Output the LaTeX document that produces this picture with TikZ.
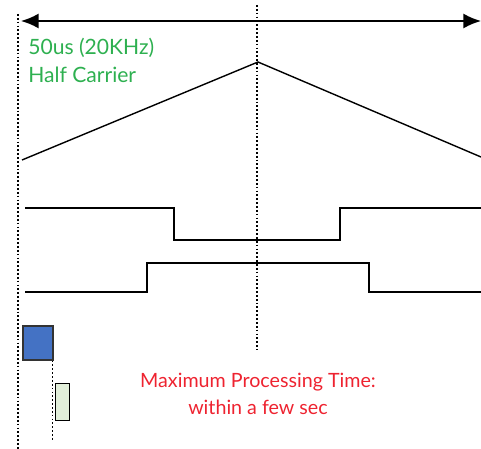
\documentclass[tikz,border=0pt]{standalone}
\usepackage{fontspec}
\setmainfont{Lato}
\usepackage{tikz}
\usetikzlibrary{arrows.meta, positioning}
\definecolor{mygreen}{HTML}{2EB050}
\definecolor{myred}{HTML}{EE2330}
\definecolor{myblue}{HTML}{4472C4}
\definecolor{mypale}{HTML}{E2EFDA}
\tikzset{
	dotline/.style={line width=0.8pt, dash pattern=on 1pt off 1.2pt}
}
\tikzset{
	wave/.style={line width=0.8pt}
}
\tikzset{
	greentext/.style={font=\fontsize{12}{14}\selectfont\color{mygreen}, anchor=west, inner sep=0pt}
}
\tikzset{
	redtext/.style={font=\fontsize{11.2}{15}\selectfont\color{myred}, align=center, inner sep=0pt}
}

\begin{document}
\begin{tikzpicture}[x=0.02cm, y=-0.02cm]
			\useasboundingbox (0,0) rectangle (481,449);

			\begin{scope}
				\coordinate (tL) at (18,14);
				\coordinate (bL) at (18,449);
				\coordinate (tC) at (257,5);
				\coordinate (bC) at (257,350);

				\draw[dotline] (tL) -- (bL);
				\draw[dotline] (tC) -- (bC);
			\end{scope}

			\begin{scope}
				\coordinate (aL) at (21,21);
				\coordinate (aR) at (481,21);

				\draw[line width=1pt, {Latex[length=10pt,width=8.5pt]}-{Latex[length=10pt,width=8.5pt]}] (aL) -- (aR);

				\node[greentext] (period) at (28,48) {50us (20KHz)};
				\node[greentext, below=5pt of period.south west, anchor=north west] (half) {Half Carrier};
			\end{scope}

			\begin{scope}
				\draw[wave] (22,160) -- (258,62) -- (481,157);
				\draw[wave] (25,208) -- (174,208) -- (174,240) -- (340,240) -- (340,208) -- (481,208);
				\draw[wave] (25,292) -- (147,292) -- (147,263) -- (369,263) -- (369,292) -- (481,292);
			\end{scope}

			\begin{scope}
				\node[draw=black!80, line width=0.9pt, fill=myblue, minimum width=30*0.02cm, minimum height=34*0.02cm, inner sep=0pt, anchor=north west] (blk) at (22,325) {};
				\coordinate (dB) at (52,440);
				\draw[dotline] (blk.south east) ++(-0.6pt,0) coordinate (dA) -- (dA |- dB);
				\node[draw=black, line width=0.8pt, fill=mypale, minimum width=14*0.02cm, minimum height=37*0.02cm, inner sep=0pt, anchor=north west] (sub) at (55,383) {};
			\end{scope}

			\node[redtext] (maxt) at (258,394) {Maximum Processing Time:\\within a few sec};

		\end{tikzpicture}
\end{document}
